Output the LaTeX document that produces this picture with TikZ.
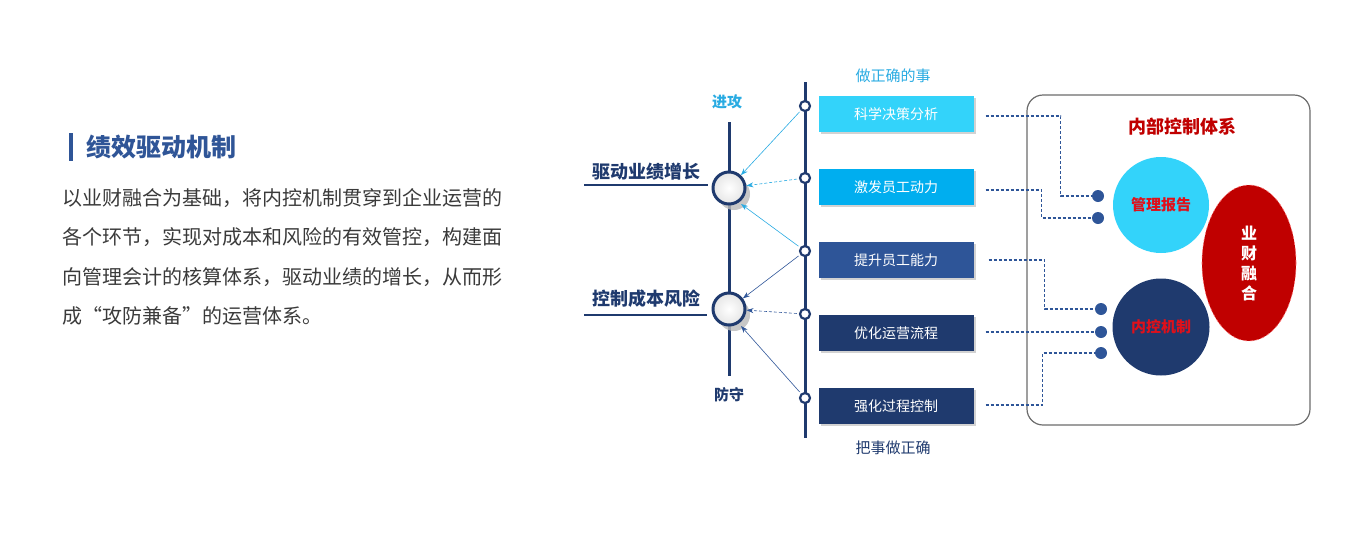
\documentclass[tikz,border=0pt]{standalone}
\usepackage{fontspec}
\setmainfont{Noto Sans CJK SC}
\usetikzlibrary{shapes.geometric,arrows.meta,shadows}
\definecolor{navy}{HTML}{1F3A6E}
\definecolor{midblue}{HTML}{2E5598}
\definecolor{skyc}{HTML}{29ABE2}
\definecolor{lcyan}{HTML}{33D3FA}
\definecolor{ccyan}{HTML}{00AEEF}
\definecolor{darkred}{HTML}{C00000}
\definecolor{txtred}{HTML}{E0101A}
\definecolor{bodygray}{HTML}{3A3A3A}
\definecolor{titleblue}{HTML}{2F5597}
\tikzset{
  fs/.style={font=\fontsize{#1}{#1}\selectfont},
  fsb/.style={font=\fontsize{#1}{#1}\selectfont\bfseries},
  bigc/.style={circle, minimum size=32pt, inner sep=0pt, draw=navy, line width=3pt,
    inner color=white, outer color=gray!20,
    drop shadow={shadow xshift=5pt, shadow yshift=-6pt, fill=gray!55, opacity=0.8}},
  smallc/.style={circle, minimum size=10pt, inner sep=0pt, draw=navy, line width=2.2pt, fill=white},
  stepbox/.style={rectangle, minimum width=155pt, minimum height=36pt, inner sep=0pt,
    text=white, fs=14,
    drop shadow={shadow xshift=2pt, shadow yshift=-2pt, fill=gray!35, opacity=1}},
  uarr/.style={-{Stealth[length=7pt,width=5pt]}, draw=skyc, line width=0.6pt, shorten <=2pt},
  darr/.style={-{Stealth[length=7pt,width=5pt]}, draw=midblue, line width=0.6pt, shorten <=2pt},
  dcon/.style={draw=midblue, line width=1.1pt, dash pattern=on 3pt off 2pt},
  dot/.style={circle, minimum size=12pt, inner sep=0pt, fill=midblue},
  axis/.style={draw=navy, line width=3pt},
}
\begin{document}
\begin{tikzpicture}[x=1pt,y=-1pt]
\useasboundingbox (0,0) rectangle (1360,550);
% left text block
\fill[titleblue] (69,133) rectangle (73,161);
\node[anchor=west, fsb=25, text=titleblue, inner sep=0pt] (title) at (86,147) {绩效驱动机制};
\node[anchor=west, fs=20, text=bodygray, inner sep=0pt] (l1) at (62,198) {以业财融合为基础，将内控机制贯穿到企业运营的};
\node[anchor=west, fs=20, text=bodygray, inner sep=0pt] (l2) at (62,237) {各个环节，实现对成本和风险的有效管控，构建面};
\node[anchor=west, fs=20, text=bodygray, inner sep=0pt] (l3) at (62,277) {向管理会计的核算体系，驱动业绩的增长，从而形};
\node[anchor=west, fs=20, text=bodygray, inner sep=0pt] (l4) at (62,316) {成“攻防兼备”的运营体系。};

% left axis
\coordinate (lt) at (729,122);
\coordinate (lb) at (729,376);
\draw[axis] (lt) -- (lb);
\node[fsb=15, text=skyc] (attack) at (727,102) {进攻};
\node[fsb=15, text=navy] (defend) at (729,395) {防守};
\node[bigc] (c1) at (729,188) {};
\node[bigc] (c2) at (729,309) {};
\node[fsb=18, text=navy] (g1) at (646,172) {驱动业绩增长};
\node[fsb=18, text=navy] (g2) at (646,299) {控制成本风险};
\coordinate (u1a) at (584,185); \coordinate (u1b) at (708,185);
\coordinate (u2a) at (584,315); \coordinate (u2b) at (707,315);
\draw[navy, line width=2pt] (u1a) -- (u1b);
\draw[navy, line width=2pt] (u2a) -- (u2b);

% right axis
\coordinate (rt) at (805,82);
\coordinate (rb) at (805,438);
\draw[axis] (rt) -- (rb);
\node[fs=15, text=skyc] (doright) at (893,76) {做正确的事};
\node[fs=15, text=navy] (rightdo) at (893,448) {把事做正确};

\node[stepbox, fill=lcyan] (b1) at (896,114) {科学决策分析};
\node[stepbox, fill=ccyan] (b2) at (896,187) {激发员工动力};
\node[stepbox, fill=midblue] (b3) at (896,260) {提升员工能力};
\node[stepbox, fill=navy] (b4) at (896,333) {优化运营流程};
\node[stepbox, fill=navy] (b5) at (896,406) {强化过程控制};

\node[smallc] (s1) at (805,106) {};
\node[smallc] (s2) at (805,178) {};
\node[smallc] (s3) at (805,251) {};
\node[smallc] (s4) at (805,314) {};
\node[smallc] (s5) at (805,398) {};

\draw[uarr] (s1) -- (c1);
\draw[uarr, densely dashed] (s2) -- (c1);
\draw[uarr] (s3) -- ([shift={(12pt,-16pt)}]c1.center);
\draw[darr] (s3) -- (c2);
\draw[darr, densely dashed] (s4) -- (c2);
\draw[darr] (s5) -- ([shift={(12pt,-17pt)}]c2.center);

% internal control system
\node[draw=gray!85!black, line width=1.2pt, rounded corners=16pt, minimum width=283pt, minimum height=330pt] (sys) at (1168.5,260) {};
\node[fsb=18, text=darkred] (systitle) at (1182,127) {内部控制体系};
\node[circle, fill=lcyan, minimum size=96pt, inner sep=0pt, fsb=15, text=txtred] (mr) at (1161,205) {管理报告};
\node[circle, fill=navy, minimum size=97pt, inner sep=0pt, fsb=15, text=txtred] (ic) at (1161,327) {内控机制};
\node[ellipse, fill=darkred, draw=red!55!white, dashed, line width=0.6pt, minimum width=94pt, minimum height=156pt, inner sep=0pt, text=white, fsb=16, align=center] (yc) at (1249,263) {业\\[4pt]财\\[4pt]融\\[4pt]合};

\coordinate (p1) at (1098,196);
\coordinate (p2) at (1098,218);
\coordinate (p3) at (1101,309);
\coordinate (p4) at (1101,332);
\coordinate (p5) at (1101,353);
\draw[dcon] ([xshift=12pt,yshift=-2pt]b1.east) -- ++(75,0) |- (p1);
\draw[dcon] ([xshift=12pt,yshift=-3pt]b2.east) -- ++(56,0) |- (p2);
\draw[dcon] ([xshift=15pt]b3.east) -- ++(56,0) |- (p3);
\draw[dcon] ([xshift=12pt,yshift=1pt]b4.east) -- (p4);
\draw[dcon] ([xshift=12pt,yshift=1pt]b5.east) -- ++(57,0) |- (p5);
\node[dot] (d1) at (p1) {};
\node[dot] (d2) at (p2) {};
\node[dot] (d3) at (p3) {};
\node[dot] (d4) at (p4) {};
\node[dot] (d5) at (p5) {};
\end{tikzpicture}
\end{document}
